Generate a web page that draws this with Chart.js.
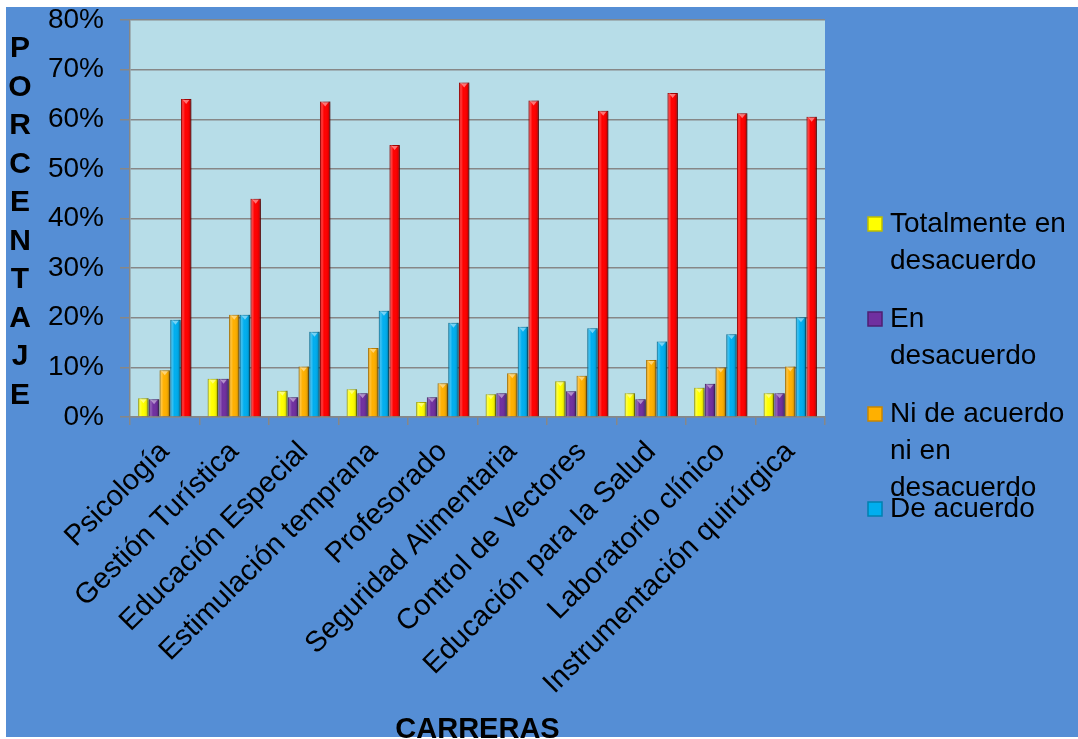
<!DOCTYPE html>
<html>
<head>
<meta charset="utf-8">
<script src="https://cdn.jsdelivr.net/npm/chart.js@4.4.1/dist/chart.umd.min.js"></script>
<style>
  html, body { margin: 0; padding: 0; background: #fff; }
  #wrap { width: 1078px; height: 739px; }
</style>
</head>
<body>
<div id="wrap"><canvas id="myChart"></canvas></div>
<script>
const carreras = [
    'Psicología',
    'Gestión Turística',
    'Educación Especial',
    'Estimulación temprana',
    'Profesorado',
    'Seguridad Alimentaria',
    'Control de Vectores',
    'Educación para la Salud',
    'Laboratorio clínico',
    'Instrumentación quirúrgica',
];

const seriesNames = [
    'Totalmente en desacuerdo',
    'En desacuerdo',
    'Ni de acuerdo ni en desacuerdo',
    'De acuerdo',
    'Totalmente de acuerdo',
];

const totalDesacuerdo = [3.8, 7.7, 5.3, 5.6, 3.0, 4.6, 7.2, 4.8, 5.9, 4.8];
const enDesacuerdo    = [3.6, 7.7, 4.0, 4.8, 4.0, 4.8, 5.2, 3.6, 6.7, 4.8];
const niNi            = [9.4, 20.6, 10.2, 13.9, 6.8, 8.8, 8.3, 11.5, 10.0, 10.2];
const deAcuerdo       = [19.6, 20.6, 17.2, 21.4, 19.0, 18.2, 17.9, 15.2, 16.7, 20.1];
const totalAcuerdo    = [64.1, 44.0, 63.6, 54.8, 67.4, 63.8, 61.7, 65.3, 61.2, 60.5];

const yTicks = [0, 10, 20, 30, 40, 50, 60, 70, 80];

const colors = ['#FFFF00', '#7030A0', '#FFB000', '#00AEEF', '#FF0000'];
const edges  = ['#BDBD00', '#4E1F73', '#C88600', '#0080B0', '#B00000'];

const FONT = '"Liberation Sans", Arial, sans-serif';

// background: white margin, blue slide, light blue plot area
const bgPlugin = {
    id: 'bg',
    beforeDraw(chart) {
        const {ctx, chartArea: a} = chart;
        ctx.save();
        ctx.fillStyle = '#ffffff';
        ctx.fillRect(0, 0, chart.width, chart.height);
        ctx.fillStyle = '#558ED5';
        ctx.fillRect(6, 7, chart.width - 6, 730);
        ctx.fillStyle = '#B7DDE8';
        ctx.fillRect(a.left, a.top, a.right - a.left, a.bottom - a.top);
        ctx.restore();
    }
};

// shadow behind bars
const shadowPlugin = {
    id: 'shadow',
    beforeDatasetsDraw(chart) {
        const ctx = chart.ctx;
        ctx.save();
        ctx.shadowColor = 'rgba(0,0,0,0.35)';
        ctx.shadowOffsetX = 2;
        ctx.shadowOffsetY = 1;
        ctx.shadowBlur = 3;
    },
    afterDatasetsDraw(chart) {
        chart.ctx.restore();
        // bevel shading on each bar
        const ctx = chart.ctx;
        chart.data.datasets.forEach((ds, i) => {
            chart.getDatasetMeta(i).data.forEach(bar => {
                const x0 = bar.x - bar.width / 2, w = bar.width;
                const top = bar.y, h = bar.base - bar.y;
                const g = ctx.createLinearGradient(x0, 0, x0 + w, 0);
                g.addColorStop(0, 'rgba(0,0,0,0.15)');
                g.addColorStop(0.18, 'rgba(255,255,255,0.25)');
                g.addColorStop(0.4, 'rgba(255,255,255,0)');
                g.addColorStop(0.75, 'rgba(0,0,0,0.05)');
                g.addColorStop(1, 'rgba(0,0,0,0.35)');
                ctx.save();
                ctx.fillStyle = g;
                ctx.fillRect(x0, top, w, h);
                // little cap highlight
                ctx.fillStyle = 'rgba(255,255,255,0.45)';
                ctx.beginPath();
                ctx.moveTo(x0 + 2, top + 1);
                ctx.lineTo(x0 + w - 2, top + 1);
                ctx.lineTo(x0 + w / 2, top + 5);
                ctx.closePath();
                ctx.fill();
                ctx.restore();
            });
        });
    }
};

// stacked letters for the y title + custom legend
const textPlugin = {
    id: 'texts',
    afterDraw(chart) {
        const ctx = chart.ctx;
        ctx.save();
        ctx.fillStyle = '#000';
        ctx.font = 'bold 30px ' + FONT;
        ctx.textAlign = 'center';
        ctx.textBaseline = 'middle';
        const word = 'PORCENTAJE';
        for (let i = 0; i < word.length; i++) {
            ctx.fillText(word[i], 20, 49 + i * 38.5);
        }

        // legend (only first four series, like the original)
        ctx.font = '28px ' + FONT;
        ctx.textAlign = 'left';
        const maxW = 184;
        for (let i = 0; i < 4; i++) {
            const yc = 224 + i * 95;
            const words = seriesNames[i].split(' ');
            const lines = [];
            let cur = '';
            words.forEach(wd => {
                const t = cur ? cur + ' ' + wd : wd;
                if (ctx.measureText(t).width > maxW && cur) { lines.push(cur); cur = wd; }
                else cur = t;
            });
            lines.push(cur);
            lines.forEach((ln, j) => ctx.fillText(ln, 890, yc + j * 37));
            ctx.fillStyle = colors[i];
            ctx.fillRect(868, yc - 7, 14, 14);
            ctx.strokeStyle = edges[i];
            ctx.lineWidth = 1.5;
            ctx.strokeRect(868, yc - 7, 14, 14);
            ctx.fillStyle = '#000';
        }
        ctx.restore();
    }
};

const data = {
    labels: carreras,
    datasets: [totalDesacuerdo, enDesacuerdo, niNi, deAcuerdo, totalAcuerdo].map((vals, i) => ({
        label: seriesNames[i],
        data: vals,
        backgroundColor: colors[i],
        borderColor: edges[i],
        borderWidth: 1,
        categoryPercentage: 0.77,
        barPercentage: 0.97,
    }))
};

const config = {
    type: 'bar',
    data: data,
    options: {
        responsive: false,
        animation: false,
        devicePixelRatio: 1,
        layout: { padding: { left: 0, top: 20, right: 253, bottom: 0 } },
        plugins: {
            legend: { display: false },
            tooltip: { enabled: false },
        },
        scales: {
            y: {
                min: 0,
                max: 80,
                afterFit(scale) {
                    scale.width = 130;
                    scale.paddingTop = 0;
                    scale.paddingBottom = 0;
                },
                afterBuildTicks(scale) { scale.ticks = yTicks.map(v => ({ value: v })); },
                ticks: {
                    color: '#000',
                    font: { family: FONT, size: 28 },
                    padding: 16,
                    callback: v => v + '%',
                },
                grid: { color: '#878787', lineWidth: 1.5, tickLength: 10 },
                border: { color: '#878787', width: 1.5 },
            },
            x: {
                afterFit(scale) { scale.height = 739 - 417; },
                ticks: {
                    color: '#000',
                    font: { family: FONT, size: 29 },
                    minRotation: 45,
                    maxRotation: 45,
                    padding: 10,
                },
                grid: { drawOnChartArea: false, color: '#878787', lineWidth: 1.5, tickLength: 8 },
                border: { color: '#878787', width: 1.5 },
                title: {
                    display: true,
                    text: 'CARRERAS',
                    color: '#000',
                    font: { family: FONT, size: 29, weight: 'bold', lineHeight: 0.6 },
                    padding: { top: 0, bottom: 0 },
                },
            },
        },
    },
    plugins: [bgPlugin, shadowPlugin, textPlugin],
};

const canvas = document.getElementById('myChart');
canvas.width = 1078;
canvas.height = 739;
const myChart = new Chart(canvas, config);
</script>
</body>
</html>
